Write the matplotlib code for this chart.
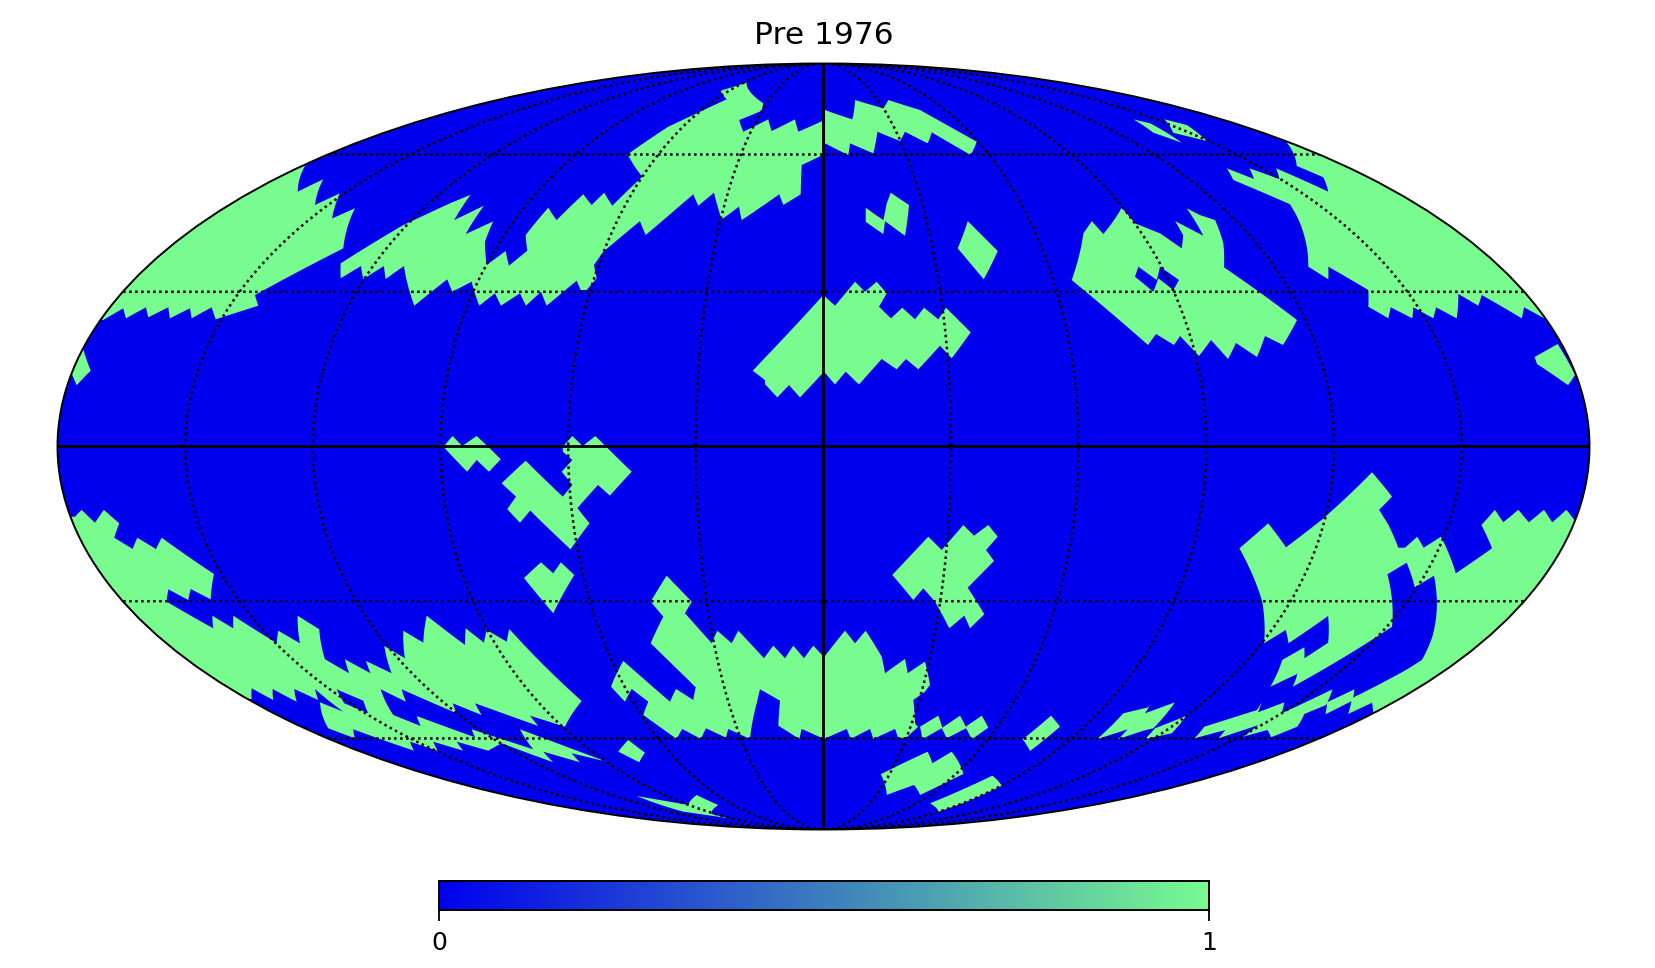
"""Pre 1976 coverage map, Mollweide view with a two colour bar."""

import numpy as np
import matplotlib
matplotlib.use("Agg")
import matplotlib.pyplot as plt
from matplotlib.cm import ScalarMappable
from matplotlib.colors import LinearSegmentedColormap, Normalize

# Image position of the map ellipse, used to turn region outlines into lon/lat
CX, CY, A, B = 823.5, 446.5, 766.0, 383.0

TITLE = "Pre 1976"
CBAR_TICKS = [0, 1]
MERIDIANS = [-150, -120, -90, -60, -30, 30, 60, 90, 120, 150]
PARALLELS = [-60, -30, 30, 60]
COLOR_LOW = "#0000EE"
COLOR_HIGH = "#78FB8F"

# =============================================================================
# Region outlines (value 1) as (x, y) on the map plane
# =============================================================================

nw_cap = [(305, 166), (297.7, 191.7), (323.3, 179.3), (315, 205), (340, 193.3), (332.3, 218.3),
          (355, 208.3), (343.3, 248.3), (255, 295), (258.3, 305.7), (215.7, 319.3), (211.7, 307.3),
          (191.7, 318.3), (190, 308.3), (170, 318.3), (168.3, 307.3), (148.3, 317.3), (146, 307.3),
          (126, 318.3), (123.3, 308.3), (103.3, 320), (90, 320), (290, 166)]
north_band = [(340.7, 278.3), (340.7, 263.3), (403.3, 225), (450, 203.3), (470.7, 194.7), (454.3, 220),
              (484, 205.7), (465.7, 234), (493.3, 221.3), (485, 241.7), (486.7, 265), (505.7, 251),
              (509, 265.7), (527.3, 250.7), (525.7, 235), (548.3, 207.7), (556.7, 220), (583.3, 194.3),
              (591.7, 205), (604.3, 192.7), (612.3, 205.7), (642.3, 176.7), (627.7, 154.3), (668.3, 126.7),
              (726.7, 99.3), (720.7, 90.7), (746.7, 82.7), (763.3, 103.3), (761.7, 110.7), (739.3, 120),
              (743.3, 131.7), (768.3, 119.3), (771.7, 131), (795, 119.3), (798.3, 131.7), (822.7, 120.7),
              (822.7, 155), (801.7, 165), (800.7, 194.3), (783.3, 205), (779.3, 194.3), (741.7, 220),
              (739, 206.7), (721.7, 219.3), (714, 192.7), (698.3, 205.7), (693.3, 194.3), (645.7, 235),
              (640, 221), (603.3, 251.7), (594, 265), (596.7, 278.3), (586.7, 290), (580.7, 290),
              (576.7, 280.7), (546.7, 305.7), (541, 291.7), (526, 305.7), (520, 293.3), (501, 305.7),
              (495, 293.3), (479.3, 305.7), (473.3, 288.3), (471.7, 281.7), (452.3, 291.7), (447.3, 279.3),
              (414.3, 305.7), (404, 266), (385.7, 279), (384, 266), (363.3, 279), (361, 266)]
north_arc = [(825, 110), (852.3, 119.3), (855, 100), (883.3, 108.3), (888.3, 100), (920, 110),
             (976.7, 141.7), (970.7, 155), (931.7, 132.3), (927.7, 143.3), (905, 131.7), (900, 141),
             (877.3, 131.7), (873.3, 153.3), (850, 143.3), (848.3, 155), (825, 143.3)]
twin_patch = [(865.7, 207.7), (883.3, 220), (886.7, 203.3), (890.7, 192.7), (909, 205), (905, 235.7),
              (885, 221), (883.3, 234), (865.7, 221.7)]
north_diamond = [(967.7, 221), (997.7, 251), (983.7, 279.3), (957.7, 248.3)]
ne_block = [(1071.7, 280), (1083.3, 233.3), (1091.7, 221), (1103.3, 234), (1121.7, 207.7), (1135, 223.3),
            (1160, 233.3), (1181.7, 248.3), (1183, 235), (1175, 221), (1203.3, 235.7), (1186.7, 208.3),
            (1200, 215), (1215, 220), (1223.3, 243.3), (1224, 267.3), (1297, 320), (1283, 345),
            (1265, 336), (1257, 357), (1236, 343), (1228, 359), (1211, 340), (1199, 356), (1180, 336),
            (1174, 345), (1156, 334), (1148, 345)]
sliver_a = [(1133.3, 119.3), (1150, 123.3), (1181.7, 142.7), (1153.3, 132.7)]
sliver_b = [(1164.3, 119.3), (1186.7, 125), (1206.7, 141), (1173, 132.7)]
ne_cap = [(1286, 141.7), (1296.7, 166), (1323.3, 177.3), (1328.3, 191.7), (1276, 168.3), (1279.3, 179),
          (1249.3, 168.3), (1254, 179), (1226.7, 168.3), (1233.3, 180), (1290, 204.3), (1300, 223.3),
          (1307.3, 250), (1308.3, 266.7), (1328.3, 279.3), (1328.3, 266.7), (1368.3, 290), (1368.3, 306.7),
          (1388.3, 318.3), (1390.7, 307.3), (1412.3, 318.3), (1413.3, 307.3), (1433.3, 318.3), (1436, 307.3),
          (1456.7, 318.3), (1458.3, 294), (1478.3, 305.7), (1481.7, 295), (1521.7, 318.3), (1524, 307.3),
          (1546.7, 319.3), (1600, 319), (1600, 141.7)]
west_spot = [(81, 348.3), (90.7, 370.7), (76.7, 385), (71, 373.3), (60, 360)]
east_spot = [(1534.5, 357), (1557.6, 344), (1575, 375), (1568, 385), (1537, 364)]
center_north = [(752.7, 370.7), (823.3, 295), (835, 305.7), (855, 281.7), (865, 291.7), (876.7, 281.7),
                (886.7, 293.3), (879, 306.7), (891, 318.3), (902.3, 307.7), (915, 319.3), (924, 307.7),
                (938.3, 319.3), (946, 307.7), (970.7, 332.3), (951.7, 358.3), (940, 345.7), (918.3, 369.3),
                (906, 359), (896.7, 369.3), (881.7, 359), (859, 384.3), (845.7, 371.7), (835, 384.3),
                (824, 371.7), (800, 397.3), (789, 385), (777.3, 397.3), (765, 384), (765, 380)]
equator_a = [(443.4, 446.7), (452.6, 436), (462.2, 446), (476.7, 436), (488.2, 446.7), (500.8, 459.3),
             (489, 471.7), (476.7, 460), (467.1, 471.7)]
equator_b = [(562.8, 446.7), (572.4, 436), (582.7, 446), (595.4, 436), (631.7, 471.7), (609.9, 495.7),
             (598, 485), (577.4, 508.3), (589.6, 523.3), (570.5, 549.3), (530.3, 510.7), (520, 522.7),
             (507.3, 509.3), (516.1, 496.7), (501.6, 483.3), (525.7, 460.7), (562.8, 496.7), (572.4, 485),
             (561.7, 471.7), (572.4, 460), (562.8, 451.7)]
south_small = [(524, 578), (541, 562.3), (553.3, 573.3), (560.9, 562.3), (574.3, 575), (553.3, 613.3)]
sw_band = [(75, 516.7), (81.7, 510), (95, 522.7), (104, 510), (119.3, 523.3), (114.3, 537.7), (132.7, 549),
           (137.3, 537.7), (156, 549), (161.7, 537.7), (214, 574), (210.7, 599.3), (190.7, 589),
           (188.3, 600), (168.3, 589.3), (166.7, 601.7), (213.3, 628.3), (212.3, 615.7), (233.3, 628.3),
           (233.3, 615.7), (271.7, 640), (276.7, 643.3), (278.3, 630.7), (300, 643.3), (297.7, 615.7),
           (319.3, 629.3), (325, 659.3), (349.3, 673.3), (345, 659.3), (370.7, 673.3), (366, 661),
           (391.7, 673.3), (384.3, 646), (405, 658.3), (403.3, 630.7), (423.3, 642.7), (426.7, 615.7),
           (465, 645), (465.7, 628.3), (484, 642.7), (486.7, 630), (506.7, 641.7), (509.3, 629),
           (581.7, 701), (565, 726.7), (530, 715.7), (538.3, 726), (475, 703.3), (481.7, 715),
           (452.7, 703.3), (456.7, 713.3), (401.7, 689.3), (406, 701.7), (380.7, 689.3), (393.3, 715),
           (420.7, 726), (416.7, 716), (475, 737.3), (471.7, 729.3), (533.3, 749.3), (520, 729.3),
           (606.7, 761.7), (571.7, 753.3), (580, 762.3), (543.3, 751.7), (553.3, 762.3), (501.7, 743.3),
           (488.3, 750.7), (456.7, 741.7), (463.3, 750.7), (433.3, 741.7), (437.7, 750.7), (410, 741.7),
           (414, 750.7), (353.3, 729.3), (355, 738.3), (328.3, 728.3), (320, 702.3), (343.3, 711.7),
           (315, 689), (318.3, 700), (294.3, 689), (296.7, 701.7), (272.7, 689), (273.3, 700),
           (251.7, 688.3), (251.7, 699), (240, 699), (60, 516.7)]
south_tile = [(618.3, 751.7), (628.3, 740), (645, 752.7), (639.3, 762.3)]
south_center = [(666.7, 575.7), (691.7, 601.7), (685, 613.3), (711.7, 643.3), (717.3, 630.7), (731.7, 643.3),
                (738.3, 630.7), (764, 658.3), (773.3, 645.7), (785, 658.3), (793.3, 645.7), (804, 658.3),
                (813.3, 645.7), (824, 657.3), (845, 630.7), (855, 643.3), (865.7, 630.7), (881.7, 656.7),
                (885, 673.3), (905, 659), (907.7, 673.3), (925, 661.7), (930, 685), (925, 691.7),
                (913.3, 700), (915, 723.3), (918, 727), (906.7, 737.3), (898.3, 738.3), (895, 729),
                (873.3, 739), (870, 729), (850.7, 739), (846.7, 729), (824, 739), (801.7, 729), (799.3, 739),
                (778.3, 725.7), (780, 700.7), (760, 689.3), (756.7, 703.3), (750, 739), (728.3, 729),
                (726, 737.7), (706, 728.3), (701, 739), (682.3, 729), (676.7, 739), (643.3, 715),
                (648.3, 701.7), (631.7, 689), (625, 701.7), (611, 686.7), (623.3, 661), (670, 701.7),
                (676, 689), (693.3, 700), (695.7, 687.3), (650.7, 643.3), (663.3, 616.7), (650.7, 601.7)]
polar_sliver = [(636.7, 796), (688.3, 805), (696.7, 795), (718.3, 805), (711.7, 814), (729.3, 818.3), (683.3, 811.7)]
south_east = [(892.3, 575), (928.3, 536.7), (941.7, 550), (963.3, 525), (974, 535.7), (988.3, 525),
              (997.7, 536.7), (986, 550), (994, 561), (967.7, 587.7), (984.3, 614.3), (970, 628.3),
              (964.3, 615.7), (949.3, 628.3), (935, 601.7), (923.3, 588.3), (913.3, 600)]
triple_tile = [(920, 726.7), (938.3, 715.7), (942.3, 727.7), (960, 715.7), (965.7, 726.7), (981.7, 715.7),
               (988.3, 727.7), (971.7, 739.3), (966, 728.3), (946.7, 738.3), (941.7, 728.3), (922.3, 739.3)]
bar_tile = [(1022.7, 739.3), (1051, 715.7), (1060, 726.7), (1030, 751)]
low_block = [(880.7, 774.3), (927.7, 751.7), (932.3, 763.3), (951.7, 751.7), (963.3, 774), (920, 795),
             (914, 785), (886.7, 795)]
low_strip = [(930, 803.3), (992.3, 775.7), (1001.7, 785.7), (938.3, 811.7)]
feather_a = [(1096.7, 739.3), (1123.3, 713.3), (1148.3, 707.3), (1151.7, 702.3), (1145, 713.3), (1175, 702.3),
             (1153.3, 728.3), (1143.3, 730.7), (1118.3, 739), (1127.7, 729.3)]
feather_b = [(1145, 739), (1155, 728.3), (1186, 716), (1171.7, 733.3)]
feather_c = [(1194.5, 738.3), (1204.3, 726.7), (1257, 710), (1261.5, 702.3), (1258, 712.3), (1284.3, 702.3),
             (1281.5, 713.3), (1332.4, 689.3), (1326, 705), (1304.3, 714), (1297.3, 726.7), (1271, 737.3),
             (1267.5, 730), (1243, 736.7), (1258.7, 725), (1218.4, 738.3), (1225.4, 730)]
feather_d = [(1325.3, 714.3), (1327, 702.3), (1354.4, 689.3), (1352.3, 700.7)]
se_band = [(1372, 472.3), (1392, 496.7), (1379, 510), (1388.5, 525), (1398.3, 547.7), (1405, 547.7),
           (1417.2, 536.7), (1423.6, 547.7), (1441, 536.7), (1455.8, 573.3), (1492, 548.3), (1481.4, 525),
           (1494.8, 510), (1503.2, 522.3), (1518.2, 510), (1528.8, 522.3), (1543.9, 510), (1552.3, 522.3),
           (1566.3, 510), (1574.4, 520), (1620, 520), (1620, 713.3), (1372, 702.7), (1348, 714),
           (1351.6, 698.3), (1406, 670), (1421.8, 660), (1432.3, 636.7), (1436.9, 603.3), (1434, 575.7),
           (1414.8, 587.3), (1406.7, 562.7), (1387.4, 574.3), (1392, 600), (1392, 626.7), (1292.7, 686.7),
           (1297.3, 674), (1270.3, 686.7), (1282.2, 660), (1304.3, 647.3), (1304.3, 658.3), (1328.1, 642.7),
           (1328.1, 616), (1288.5, 643.3), (1285.7, 630), (1264, 643.3), (1262.2, 601.7), (1239.4, 548.3),
           (1268.2, 523.3), (1286, 547.3), (1323.6, 518.3)]

# Holes (value 0) inside the regions above
ne_hole = [(1138.3, 266.7), (1156.7, 280), (1160, 266.7), (1179, 280), (1173.3, 290), (1158.3, 278.3),
           (1153.3, 291.7), (1135, 276.7)]
sw_hole = [(336.7, 689.3), (363.3, 700.7), (368.3, 713.3), (344.3, 703.3)]

REGIONS = [nw_cap, north_band, north_arc, twin_patch, north_diamond, ne_block, sliver_a, sliver_b, ne_cap,
           west_spot, east_spot, center_north, equator_a, equator_b, south_small, sw_band, south_tile,
           south_center, polar_sliver, south_east, triple_tile, bar_tile, low_block, low_strip,
           feather_a, feather_b, feather_c, feather_d, se_band]
HOLES = [ne_hole, sw_hole]


def plane_to_lonlat(points):
    """Inverse Mollweide for outline points, anything past the rim lands on it."""
    pts = np.array(points, dtype=float)
    u = (pts[:, 0] - CX) / A
    v = np.clip((CY - pts[:, 1]) / B, -0.9995, 0.9995)
    theta = np.arcsin(v)
    lat = np.arcsin((2 * theta + np.sin(2 * theta)) / np.pi)
    lon = np.clip(np.pi * u / np.cos(theta), -np.pi, np.pi)
    return lon, lat


W, H = 1656, 968
fig = plt.figure(figsize=(W / 100, H / 100), dpi=100)
cmap = LinearSegmentedColormap.from_list("cover", [COLOR_LOW, COLOR_HIGH])

ax = fig.add_axes([(CX - A) / W, 1 - (CY + B) / H, 2 * A / W, 2 * B / H], projection="mollweide")
ax.set_facecolor(cmap(0.0))
ax.set_xticklabels([])
ax.set_yticklabels([])
ax.grid(False)
ax.tick_params(length=0)
ax.spines["geo"].set_linewidth(1.4)

for region in REGIONS:
    lon, lat = plane_to_lonlat(region)
    ax.fill(lon, lat, color=cmap(1.0), lw=0, zorder=2)
for hole in HOLES:
    lon, lat = plane_to_lonlat(hole)
    ax.fill(lon, lat, color=cmap(0.0), lw=0, zorder=3)

# Graticule: dotted every 30 degrees, solid through the centre
lat_line = np.radians(np.linspace(-89.9, 89.9, 400))
lon_line = np.radians(np.linspace(-179.9, 179.9, 400))
for lon_deg in MERIDIANS:
    ax.plot(np.full_like(lat_line, np.radians(lon_deg)), lat_line, color="k", lw=1.8, ls=(0, (1, 1.4)), zorder=4)
for lat_deg in PARALLELS:
    ax.plot(lon_line, np.full_like(lon_line, np.radians(lat_deg)), color="k", lw=1.8, ls=(0, (1, 1.4)), zorder=4)
ax.plot(np.zeros_like(lat_line), lat_line, color="k", lw=2.0, zorder=4)
ax.plot(lon_line, np.zeros_like(lon_line), color="k", lw=2.0, zorder=4)

ax.set_title(TITLE, fontsize=22.5, pad=14)

cax = fig.add_axes([439 / W, 1 - 910 / H, 770 / W, 29 / H])
cbar = fig.colorbar(ScalarMappable(Normalize(0, 1), cmap), cax=cax, orientation="horizontal", ticks=CBAR_TICKS)
cbar.ax.tick_params(labelsize=18, length=8, width=1.3, pad=7)
cbar.outline.set_linewidth(1.4)

fig.savefig("out.png", dpi=100)
plt.close(fig)
